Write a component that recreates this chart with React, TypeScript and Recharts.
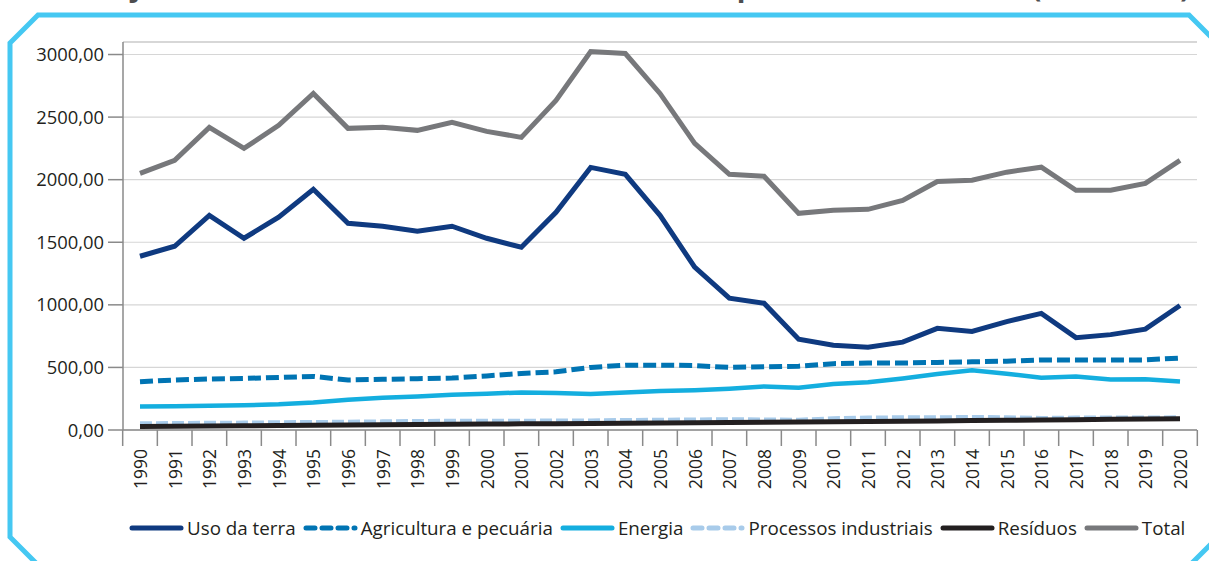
import React from 'react';
import { LineChart, Line, XAxis, YAxis, CartesianGrid, ReferenceLine } from 'recharts';

const years = ['1990','1991','1992','1993','1994','1995','1996','1997','1998','1999','2000','2001','2002','2003','2004','2005','2006','2007','2008','2009','2010','2011','2012','2013','2014','2015','2016','2017','2018','2019','2020'];
const usoDaTerra = [1388,1468,1715,1532,1700,1923,1652,1628,1588,1628,1532,1460,1739,2098,2043,1715,1301,1053,1013,726,678,662,702,812,788,866,932,738,762,806,995];
const agricultura = [385,400,408,412,420,428,400,405,410,415,432,452,465,500,518,518,515,500,505,510,530,535,535,540,545,550,560,560,560,560,575];
const energia = [188,190,193,197,205,220,242,258,268,282,290,300,295,287,300,312,318,330,348,338,368,382,412,448,478,450,418,428,404,405,387];
const processos = [50,52,54,55,58,60,62,65,68,70,70,70,72,72,76,78,80,82,80,78,90,95,98,98,100,98,92,95,96,96,97];
const residuos = [28,30,32,34,36,38,40,42,44,45,47,49,50,52,54,56,58,60,62,64,66,68,70,72,75,78,80,82,85,87,90];
const total = [2051,2154,2418,2250,2434,2689,2410,2418,2394,2458,2386,2338,2633,3024,3008,2689,2290,2043,2027,1731,1755,1763,1835,1985,1995,2060,2100,1915,1915,1970,2154];
const yTicks = [0,500,1000,1500,2000,2500,3000];

const data = years.map((year, i) => ({
  year,
  uso: usoDaTerra[i],
  agri: agricultura[i],
  energia: energia[i],
  processos: processos[i],
  residuos: residuos[i],
  total: total[i],
}));

const series = [
  { key: 'uso', name: 'Uso da terra', color: '#0f3a80', dash: undefined as string | undefined, width: 5 },
  { key: 'agri', name: 'Agricultura e pecuária', color: '#0074b3', dash: '13 5', width: 5 },
  { key: 'energia', name: 'Energia', color: '#14aedf', dash: undefined, width: 4.5 },
  { key: 'processos', name: 'Processos industriais', color: '#a8cbea', dash: '12 4', width: 5 },
  { key: 'residuos', name: 'Resíduos', color: '#231f20', dash: undefined, width: 5 },
  { key: 'total', name: 'Total', color: '#77787b', dash: undefined, width: 5 },
];

const FONT = '"Open Sans", sans-serif';
const AXIS = '#8a8a8a';
const TEXT = '#231f20';

const XTick = (props: any) => {
  const { x, y, payload, index } = props;
  const half = 17.32;
  return (
    <g>
      <line x1={x - half} x2={x - half} y1={y} y2={y + 16} stroke={AXIS} strokeWidth={1.5} />
      {index === years.length - 1 && (
        <line x1={x + half} x2={x + half} y1={y} y2={y + 16} stroke={AXIS} strokeWidth={1.5} />
      )}
      <text
        transform={`translate(${x},${y + 19}) rotate(-90)`}
        textAnchor="end"
        dominantBaseline="central"
        fill={TEXT}
        fontSize={17.5}
        fontFamily={FONT}
      >
        {payload.value}
      </text>
    </g>
  );
};

const LegendIcon = ({ color, dash }: { color: string; dash?: string }) => (
  <svg width={55} height={10} style={{ display: 'block' }}>
    <line x1={3} x2={52} y1={5} y2={5} stroke={color} strokeWidth={5} strokeLinecap="round" strokeDasharray={dash ? '9 7' : undefined} />
  </svg>
);

export default function App() {
  return (
    <div style={{ position: 'fixed', left: 0, top: 0, width: 1209, height: 561, background: '#fff', overflow: 'hidden' }}>
      <svg width={1209} height={561} style={{ position: 'absolute', left: 0, top: 0 }}>
        <text x={85} y={-3} fontFamily={FONT} fontWeight="bold" fontSize={26} fill="#4d4d4f" textLength={1105} lengthAdjust="spacingAndGlyphs">
          Trajetória das emissões brutas de GEE, total e por setor, em MtCO₂ (1990-2020)
        </text>
        <path
          d="M 36 563 L 10 537 L 10 43 L 38 15 L 1189 15 L 1213 39 L 1213 542 L 1192 563"
          fill="none"
          stroke="#45c8f2"
          strokeWidth={5}
        />
      </svg>
      <div style={{ position: 'absolute', left: 0, top: 0 }}>
        <LineChart width={1209} height={561} data={data} margin={{ top: 42, right: 12, left: 0, bottom: 61 }}>
          <CartesianGrid vertical={false} stroke="#d6d6d6" strokeWidth={1.2} />
          <ReferenceLine y={3100} stroke="#d0d0d0" strokeWidth={1.5} />
          <XAxis
            dataKey="year"
            interval={0}
            padding={{ left: 17, right: 17 }}
            height={70}
            tickLine={false}
            tickSize={0}
            tickMargin={0}
            axisLine={{ stroke: AXIS, strokeWidth: 1.5 }}
            tick={<XTick />}
          />
          <YAxis
            width={123}
            domain={[0, 3100]}
            ticks={yTicks}
            tickFormatter={(v: number) => v.toFixed(2).replace('.', ',')}
            tickSize={15}
            tickMargin={4}
            tickLine={{ stroke: AXIS, strokeWidth: 1.5 }}
            axisLine={{ stroke: AXIS, strokeWidth: 1.5 }}
            tick={{ fill: TEXT, fontSize: 18.4, fontFamily: FONT }}
            allowDataOverflow
          />
          <YAxis
            yAxisId="r"
            orientation="right"
            width={0}
            domain={[0, 3100]}
            tick={false}
            tickLine={false}
            axisLine={{ stroke: '#d0d0d0', strokeWidth: 1.5 }}
          />
          {series.map((s) => (
            <Line
              key={s.key}
              type="linear"
              dataKey={s.key}
              name={s.name}
              stroke={s.color}
              strokeWidth={s.width}
              strokeDasharray={s.dash}
              dot={false}
              activeDot={false}
              isAnimationActive={false}
            />
          ))}
        </LineChart>
      </div>
      <div
        style={{
          position: 'absolute',
          left: 129,
          top: 515,
          display: 'flex',
          alignItems: 'center',
          fontFamily: FONT,
          fontSize: 18.8,
          color: TEXT,
          whiteSpace: 'nowrap',
        }}
      >
        {series.map((s) => (
          <div key={s.key} style={{ display: 'flex', alignItems: 'center', marginRight: 7 }}>
            <LegendIcon color={s.color} dash={s.dash} />
            <span style={{ marginLeft: 3 }}>{s.name}</span>
          </div>
        ))}
      </div>
    </div>
  );
}
